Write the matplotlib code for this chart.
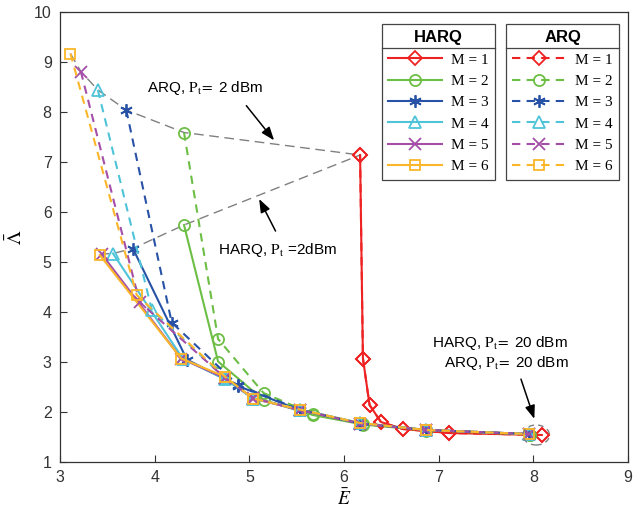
import matplotlib
matplotlib.use("Agg")
import matplotlib.pyplot as plt
from matplotlib.lines import Line2D
from matplotlib.patches import Ellipse

plt.rcParams['font.family'] = ['Liberation Sans', 'DejaVu Sans']
plt.rcParams['mathtext.fontset'] = 'stix'

# ---------------- data ----------------
M_values = [1, 2, 3, 4, 5, 6]

harq_x = [
    [6.17, 6.20, 6.27, 6.39, 6.62, 7.11, 8.09],
    [4.31, 4.67, 5.15, 5.67, 6.20, 6.87, 7.97],
    [3.77, 4.34, 4.88, 5.53, 6.17, 6.87, 7.95],
    [3.56, 4.30, 4.74, 5.04, 5.53, 6.17, 6.87, 7.95],
    [3.44, 4.28, 4.74, 5.04, 5.53, 6.17, 6.87, 7.95],
    [3.42, 4.28, 4.74, 5.04, 5.53, 6.17, 6.87, 7.95],
]
harq_y = [
    [7.14, 3.07, 2.14, 1.80, 1.66, 1.58, 1.54],
    [5.74, 3.01, 2.24, 1.94, 1.75, 1.63, 1.55],
    [5.27, 3.05, 2.52, 2.04, 1.77, 1.64, 1.56],
    [5.17, 3.06, 2.66, 2.27, 2.05, 1.78, 1.64, 1.56],
    [5.16, 3.07, 2.68, 2.27, 2.04, 1.77, 1.64, 1.56],
    [5.14, 3.07, 2.71, 2.27, 2.05, 1.78, 1.64, 1.56],
]
arq_x = [
    [6.17, 6.20, 6.27, 6.39, 6.62, 7.11, 8.09],
    [4.31, 4.67, 5.15, 5.67, 6.20, 6.87, 7.97],
    [3.70, 4.18, 4.88, 5.53, 6.17, 6.87, 7.95],
    [3.40, 3.97, 4.74, 5.04, 5.53, 6.17, 6.87, 7.95],
    [3.22, 3.84, 4.74, 5.04, 5.53, 6.17, 6.87, 7.95],
    [3.11, 3.81, 4.74, 5.04, 5.53, 6.17, 6.87, 7.95],
]
arq_y = [
    [7.14, 3.07, 2.14, 1.80, 1.66, 1.58, 1.54],
    [7.59, 3.46, 2.38, 1.96, 1.76, 1.64, 1.55],
    [8.04, 3.79, 2.54, 2.05, 1.77, 1.64, 1.56],
    [8.44, 4.04, 2.68, 2.27, 2.05, 1.78, 1.64, 1.56],
    [8.81, 4.20, 2.69, 2.28, 2.04, 1.77, 1.64, 1.56],
    [9.17, 4.34, 2.71, 2.27, 2.05, 1.78, 1.64, 1.56],
]

colors = ['#EE2222', '#6CBE45', '#2752A6', '#4FC4D9', '#A44EA8', '#FBB62A']
markers = ['D', 'o', (6, 2, 0), '^', 'x', 's']
msizes = [7, 8, 9, 9, 8, 7]

# ---------------- figure ----------------
fig = plt.figure(figsize=(6.35, 5.17), dpi=100)
ax = fig.add_axes([60/635, 55/517, 568/635, 450/517])

# Pt = 2 dBm connector lines (through first points of each curve)
ax.plot([xs[0] for xs in arq_x][::-1], [ys[0] for ys in arq_y][::-1],
        ls=(0, (7, 4)), color='#808080', lw=1.0, zorder=1)
ax.plot([xs[0] for xs in harq_x][::-1], [ys[0] for ys in harq_y][::-1],
        ls=(0, (7, 4)), color='#808080', lw=1.0, zorder=1)

h_handles, a_handles = [], []
for i in range(6):
    h, = ax.plot(harq_x[i], harq_y[i], color=colors[i], marker=markers[i],
                 ms=msizes[i], mfc='none', mew=1.3, lw=1.5, ls='-', zorder=3)
    h_handles.append(h)
for i in range(6):
    a, = ax.plot(arq_x[i], arq_y[i], color=colors[i], marker=markers[i],
                 ms=msizes[i], mfc='none', mew=1.3, lw=1.5, ls=(0, (4, 3)), zorder=4)
    a_handles.append(a)

ax.set_xlim(3, 9)
ax.set_ylim(1, 10)
ax.set_xticks(range(3, 10))
ax.set_yticks(range(1, 11))
ax.tick_params(direction='in', length=5, width=0.8, labelsize=11.5,
               colors='#333333', labelcolor='#333333', top=False, right=False, pad=6)
for s in ax.spines.values():
    s.set_color('#333333')
    s.set_linewidth(0.9)

ax.set_xlabel(r'$\bar{E}$', fontsize=14, labelpad=2)
ax.set_ylabel(r'$\bar{\Lambda}$', fontsize=14, labelpad=6)

# dashed circle at Pt = 20 dBm
ax.add_patch(Ellipse((8.03, 1.54), 0.28, 0.40, fill=False, ls=(0, (4, 3)),
                     ec='#808080', lw=1.0, zorder=5))

# annotations
arrowprops = dict(arrowstyle='-|>,head_length=0.8,head_width=0.3', color='black', lw=1.1)
ax.text(4.53, 8.48, r'ARQ, $\mathrm{P_t}\!=$ 2 dBm', fontsize=11, ha='center', va='center')
ax.annotate('', xy=(5.28, 7.39), xytext=(4.95, 8.17), arrowprops=arrowprops)
ax.text(5.30, 5.24, r'HARQ, $\mathrm{P_t}$ =2dBm', fontsize=11, ha='center', va='center')
ax.annotate('', xy=(5.09, 6.31), xytext=(5.29, 5.57), arrowprops=arrowprops)
ax.text(7.65, 3.38, r'HARQ, $\mathrm{P_t}\!=$ 20 dBm', fontsize=11, ha='center', va='center')
ax.text(7.72, 2.98, r'ARQ, $\mathrm{P_t}\!=$ 20 dBm', fontsize=11, ha='center', va='center')
ax.annotate('', xy=(8.02, 1.81), xytext=(7.86, 2.71), arrowprops=arrowprops)

labels = ['M = %d' % m for m in M_values]
legkw = dict(loc='upper left', prop={'family': 'Liberation Serif', 'size': 11},
             handlelength=3.5, labelspacing=0.5, handletextpad=0.6,
             borderpad=0.42, borderaxespad=0.0, fancybox=False,
             edgecolor='#444444', framealpha=1,
             title_fontproperties={'family': 'Liberation Sans', 'weight': 'bold', 'size': 12})
leg1 = ax.legend(h_handles, labels, title='HARQ',
                 bbox_to_anchor=((382-60)/568, (462-24)/450), **legkw)
ax.add_artist(leg1)
leg2 = ax.legend(a_handles, labels, title='ARQ',
                 bbox_to_anchor=((506-60)/568, (462-24)/450), **legkw)
for lg in (leg1, leg2):
    lg.get_frame().set_linewidth(0.9)

fig.canvas.draw()
renderer = fig.canvas.get_renderer()
for lg in (leg1, leg2):
    fb = lg.get_frame().get_window_extent(renderer)
    tb = lg.get_title().get_window_extent(renderer)
    yline = tb.y0 - 3
    fig.add_artist(Line2D([fb.x0 / fig.bbox.width, fb.x1 / fig.bbox.width],
                          [yline / fig.bbox.height, yline / fig.bbox.height],
                          transform=fig.transFigure, color='#444444', lw=0.9, zorder=10))

fig.savefig('out.png', dpi=100)
